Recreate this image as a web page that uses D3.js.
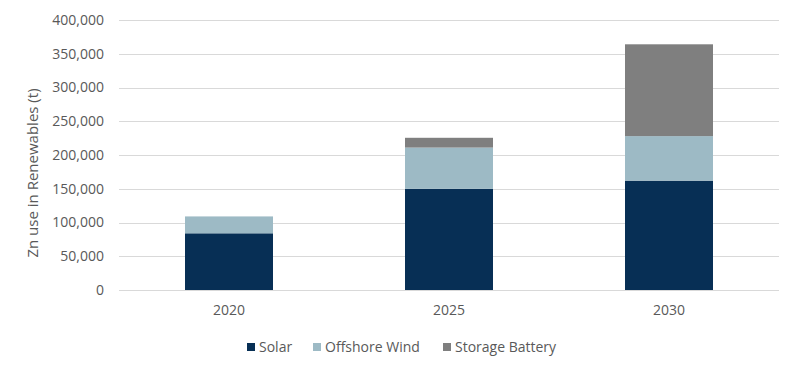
<!DOCTYPE html>
<html>
<head>
<meta charset="utf-8">
<script src="https://cdn.jsdelivr.net/npm/d3@7"></script>
<style>
  body { margin: 0; background: #fff; }
  svg { display: block; font-family: "Open Sans", sans-serif; }
</style>
</head>
<body>
<svg id="chart" width="800" height="374"></svg>
<script>
const years = ["2020", "2025", "2030"];
const seriesNames = ["Solar", "Offshore Wind", "Storage Battery"];
const solar = [84000, 150000, 162000];
const offshoreWind = [25000, 61000, 66000];
const storageBattery = [0, 14500, 136000];
const yTicks = [0, 50000, 100000, 150000, 200000, 250000, 300000, 350000, 400000];
const colors = ["#072F55", "#9DBAC5", "#7F7F7F"];

const rows = years.map((y, i) => ({
  year: y, "Solar": solar[i], "Offshore Wind": offshoreWind[i], "Storage Battery": storageBattery[i]
}));

const svg = d3.select("#chart");
const margin = { left: 119, right: 21, top: 20, bottom: 84 };
const W = 800, H = 374;

const x = d3.scaleBand().domain(years).range([margin.left, W - margin.right]).paddingInner(0.6).paddingOuter(0.3);
const y = d3.scaleLinear().domain([0, 400000]).range([H - margin.bottom, margin.top]);

// gridlines
svg.append("g").selectAll("line").data(yTicks).join("line")
  .attr("x1", margin.left).attr("x2", W - margin.right)
  .attr("y1", d => Math.round(y(d)) + 0.5).attr("y2", d => Math.round(y(d)) + 0.5)
  .attr("stroke", "#D9D9D9").attr("stroke-width", 1);

// y axis labels
const yAxis = d3.axisLeft(y).tickValues(yTicks).tickFormat(d3.format(",")).tickSize(0).tickPadding(15);
const ya = svg.append("g").attr("transform", `translate(${margin.left},0)`).call(yAxis);
ya.select(".domain").remove();
ya.selectAll("text").attr("fill", "#595959").style("font-size", "14px").style("font-family", "Open Sans, sans-serif");

// stacked bars
const stack = d3.stack().keys(seriesNames)(rows);
svg.append("g").selectAll("g").data(stack).join("g")
  .attr("fill", (d, i) => colors[i])
  .selectAll("rect").data(d => d).join("rect")
  .attr("x", d => x(d.data.year))
  .attr("width", x.bandwidth())
  .attr("y", d => y(d[1]))
  .attr("height", d => y(d[0]) - y(d[1]));

// x axis
const xAxis = d3.axisBottom(x).tickSize(0).tickPadding(15);
const xa = svg.append("g").attr("transform", `translate(0,${H - margin.bottom})`).call(xAxis);
xa.select(".domain").remove();
xa.selectAll("text").attr("fill", "#595959").style("font-size", "14px").style("font-family", "Open Sans, sans-serif");

// y title
svg.append("text")
  .attr("transform", `translate(38,${(y(0) + y(400000)) / 2 + 18}) rotate(-90)`)
  .attr("text-anchor", "middle")
  .attr("fill", "#595959")
  .style("font-size", "15px")
  .text("Zn use in Renewables (t)");

// legend
const legendX = [247, 313, 443];
const lg = svg.append("g").selectAll("g").data(seriesNames).join("g")
  .attr("transform", (d, i) => `translate(${legendX[i]},343)`);
lg.append("rect").attr("width", 8).attr("height", 8).attr("fill", (d, i) => colors[i]);
lg.append("text").attr("x", 12).attr("y", 4).attr("dy", "0.35em")
  .attr("fill", "#595959").style("font-size", "14px").text(d => d);
</script>
</body>
</html>
